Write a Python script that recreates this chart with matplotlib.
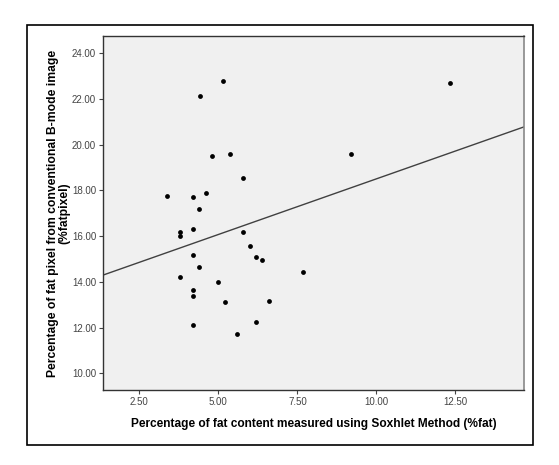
import matplotlib
matplotlib.use("Agg")
import matplotlib.pyplot as plt
import matplotlib.patches as patches
import numpy as np

plt.rcParams['font.family'] = ['Liberation Sans', 'DejaVu Sans']

# Soxhlet fat (%fat) vs B-mode fat pixel (%fatpixel)
fat_soxhlet = [5.15, 4.41, 4.80, 5.36, 5.79, 3.39, 4.19, 4.60, 4.40, 4.19,
               3.80, 3.80, 5.79, 5.99, 6.19, 6.39, 4.19, 4.40, 3.80, 5.00,
               4.19, 4.19, 5.20, 6.59, 4.19, 6.19, 5.59, 7.69, 12.34, 9.19]
fat_pixel = [22.79, 22.13, 19.51, 19.58, 18.54, 17.74, 17.71, 17.90, 17.19, 16.31,
             16.17, 16.02, 16.18, 15.58, 15.08, 14.94, 15.19, 14.64, 14.20, 14.01,
             13.66, 13.40, 13.12, 13.18, 12.10, 12.23, 11.73, 14.44, 22.71, 19.61]

x_ticks = [2.5, 5.0, 7.5, 10.0, 12.5]
y_ticks = [10, 12, 14, 16, 18, 20, 22, 24]

X_LIM = (1.35, 14.67)
Y_LIM = (9.27, 24.76)

fig = plt.figure(figsize=(5.59, 4.65), dpi=100)
ax = fig.add_axes([0.1843, 0.1613, 0.7531, 0.7613])
ax.set_facecolor('#f0f0f0')

ax.scatter(fat_soxhlet, fat_pixel, s=12, c='black', zorder=3, linewidths=0)

# linear fit line across the whole axis
slope, intercept = np.polyfit(fat_soxhlet, fat_pixel, 1)
xs = np.array(X_LIM)
ax.plot(xs, intercept + slope * xs, color='#404040', linewidth=1.0, zorder=2)

ax.set_xlim(*X_LIM)
ax.set_ylim(*Y_LIM)
ax.set_xticks(x_ticks)
ax.set_xticklabels(["%.2f" % v for v in x_ticks])
ax.set_yticks(y_ticks)
ax.set_yticklabels(["%.2f" % v for v in y_ticks])
ax.tick_params(direction='out', length=3, width=0.8, colors='#444444',
               labelsize=7, pad=2)

for side in ['left', 'bottom', 'top']:
    ax.spines[side].set_color('#333333')
    ax.spines[side].set_linewidth(1.0)
ax.spines['right'].set_color('#888888')
ax.spines['right'].set_linewidth(1.2)

ax.set_xlabel("Percentage of fat content measured using Soxhlet Method (%fat)",
              fontsize=8.6, fontweight='bold', labelpad=8)
ax.set_ylabel("Percentage of fat pixel from conventional B-mode image\n(%fatpixel)",
              fontsize=8.7, fontweight='bold', linespacing=1.0)
ax.yaxis.set_label_coords(-0.077, 0.5)

# outer frame around the chart
frame = patches.Rectangle((0.0483, 0.043), 0.9052, 0.903, transform=fig.transFigure,
                          fill=False, edgecolor='black', linewidth=1.2)
fig.patches.append(frame)

fig.savefig("out.png", dpi=100)
